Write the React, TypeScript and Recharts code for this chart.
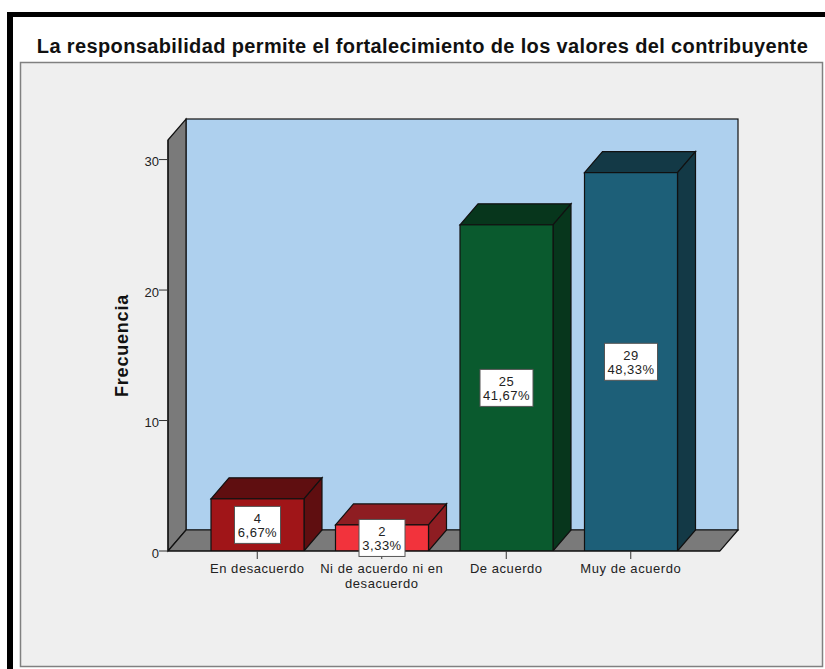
import { BarChart, Bar, XAxis, YAxis, LabelList } from 'recharts';

const categories = ['En desacuerdo', 'Ni de acuerdo ni en desacuerdo', 'De acuerdo', 'Muy de acuerdo'];
const frequencies = [4, 2, 25, 29];
const percents = ['6,67%', '3,33%', '41,67%', '48,33%'];
const yTicks = [0, 10, 20, 30];

const frontColors = ['#A01518', '#F2333C', '#0A5A2E', '#1D5F78'];
const topColors = ['#5F0E10', '#8E1D22', '#07361C', '#133946'];
const sideColors = ['#5F0E10', '#8E1D22', '#07361C', '#133946'];

const data = categories.map((name, i) => ({ name, value: frequencies[i] }));

// depth of the fake 3D look
const DX = 18;
const DY = 21;

function Bar3D(props: any) {
  const { x, y, width, height, index } = props;
  const stroke = '#111';
  return (
    <g>
      <polygon
        points={`${x},${y} ${x + DX},${y - DY} ${x + width + DX},${y - DY} ${x + width},${y}`}
        fill={topColors[index]}
        stroke={stroke}
        strokeWidth={1.2}
      />
      <polygon
        points={`${x + width},${y} ${x + width + DX},${y - DY} ${x + width + DX},${y + height - DY} ${x + width},${y + height}`}
        fill={sideColors[index]}
        stroke={stroke}
        strokeWidth={1.2}
      />
      <rect x={x} y={y} width={width} height={height} fill={frontColors[index]} stroke={stroke} strokeWidth={1.2} />
    </g>
  );
}

function ValueBox(props: any) {
  const { x, y, width, height, value, index } = props;
  const cx = x + width / 2;
  const cy = y + height / 2;
  const boxWidth = 11 + 7 * percents[index].length;
  const textProps = {
    x: cx,
    textAnchor: 'middle' as const,
    fontSize: 13,
    fill: '#222',
    letterSpacing: 0.5,
    fontFamily: 'Liberation Sans',
  };
  return (
    <g>
      <rect x={cx - boxWidth / 2} y={cy - 18.5} width={boxWidth} height={37} fill="#fff" stroke="#555" strokeWidth={1} />
      <text {...textProps} y={cy - 2}>
        {value}
      </text>
      <text {...textProps} y={cy + 12}>
        {percents[index]}
      </text>
    </g>
  );
}

function CategoryTick(props: any) {
  const { x, y, payload } = props;
  // long label breaks in two lines like the original
  const lines =
    payload.value === 'Ni de acuerdo ni en desacuerdo' ? ['Ni de acuerdo ni en', 'desacuerdo'] : [payload.value];
  return (
    <text x={x} y={y + 2} textAnchor="middle" fontSize={13} letterSpacing={0.55} fill="#222" fontFamily="Liberation Sans">
      {lines.map((line, i) => (
        <tspan key={i} x={x} dy={i === 0 ? 10 : 14.5}>
          {line}
        </tspan>
      ))}
    </text>
  );
}

export default function App() {
  return (
    <div style={{ position: 'relative', width: 825, height: 669, background: '#fff', overflow: 'hidden' }}>
      <style>{'body{margin:0}'}</style>
      <svg width={825} height={669} style={{ position: 'absolute', left: 0, top: 0 }}>
        <rect x={7} y={12} width={818} height={5} fill="#000" />
        <rect x={7} y={12} width={6} height={657} fill="#000" />
        <rect x={20.5} y={62.5} width={802} height={604} fill="#EFEFEF" stroke="#808080" strokeWidth={1.5} />
        <text
          x={422.5}
          y={53}
          textAnchor="middle"
          fontSize={20}
          letterSpacing={0.37}
          fontWeight="bold"
          fill="#111"
          fontFamily="Liberation Sans"
        >
          La responsabilidad permite el fortalecimiento de los valores del contribuyente
        </text>
        {/* back wall, side wall and floor */}
        <rect x={186} y={119} width={552} height={411} fill="#AED0EE" stroke="#111" strokeWidth={1.2} />
        <polygon points="168,140 186,119 186,530 168,551" fill="#7A7A7A" stroke="#111" strokeWidth={1.2} />
        <polygon points="168,551 186,530 738,530 720,551" fill="#7A7A7A" stroke="#111" strokeWidth={1.2} />
      </svg>
      <div style={{ position: 'absolute', left: 0, top: 0 }}>
        <BarChart
          width={825}
          height={669}
          data={data}
          margin={{ top: 140, right: 105, bottom: 78, left: 108 }}
          barSize={93}
        >
          <XAxis
            dataKey="name"
            height={40}
            interval={0}
            padding={{ left: 27, right: 27 }}
            axisLine={{ stroke: '#111', strokeWidth: 1.2 }}
            tickLine={{ stroke: '#333' }}
            tickSize={8}
            tick={<CategoryTick />}
          />
          <YAxis
            width={60}
            domain={[0, 31.5]}
            ticks={yTicks}
            allowDataOverflow
            axisLine={{ stroke: '#111', strokeWidth: 1.2 }}
            tickLine={{ stroke: '#333' }}
            tickSize={9}
            tickMargin={0}
            tick={{ fontSize: 13, fill: '#222', fontFamily: 'Liberation Sans', dy: 2 }}
            label={{
              value: 'Frecuencia',
              angle: -90,
              position: 'left',
              offset: -14,
              style: {
                fontSize: 18,
                letterSpacing: 0.8,
                fontWeight: 'bold',
                fill: '#111',
                fontFamily: 'Liberation Sans',
                textAnchor: 'middle',
              },
            }}
          />
          <Bar dataKey="value" isAnimationActive={false} shape={<Bar3D />}>
            <LabelList dataKey="value" content={<ValueBox />} />
          </Bar>
        </BarChart>
      </div>
    </div>
  );
}
